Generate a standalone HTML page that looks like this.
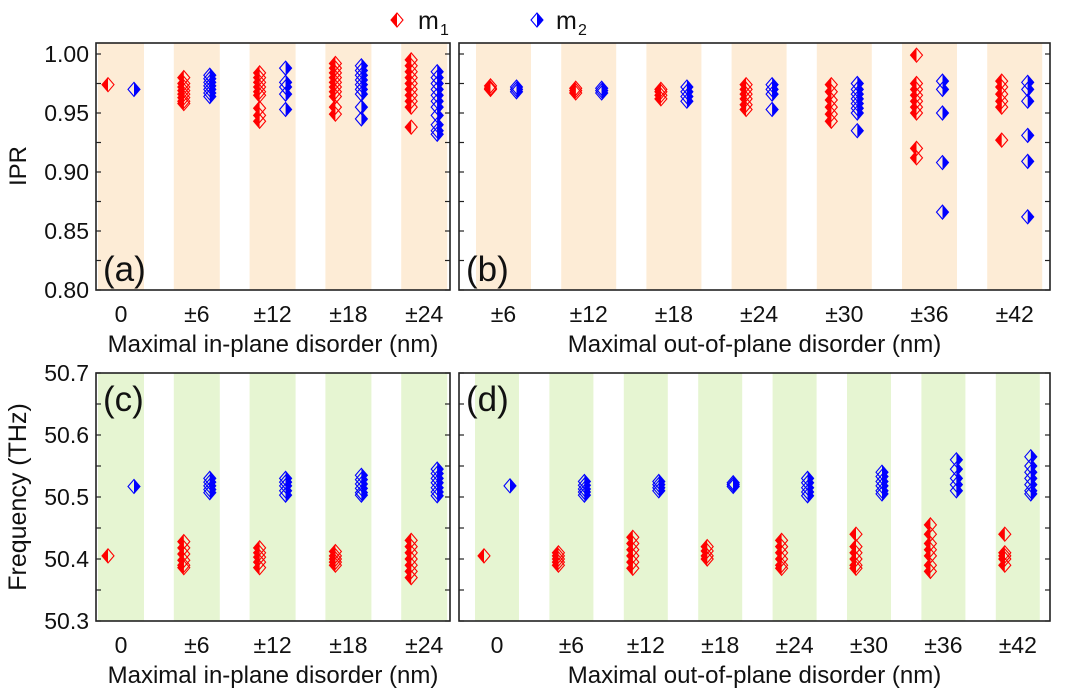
<!DOCTYPE html>
<html><head><meta charset="utf-8">
<style>
body{margin:0;background:#fff;}
svg{display:block;font-family:"Liberation Sans",Arial,sans-serif;}
</style></head>
<body>
<svg id="fig" width="1080" height="688" viewBox="0 0 1080 688" xmlns="http://www.w3.org/2000/svg"></svg>
<script>
// ---------- data ----------
const catsInPlane = ["0","±6","±12","±18","±24"];
const catsOutPlane = ["±6","±12","±18","±24","±30","±36","±42"];
const catsOutPlaneD = ["0","±6","±12","±18","±24","±30","±36","±42"];

const iprTicks = ["1.00","0.95","0.90","0.85","0.80"];
const freqTicks = ["50.7","50.6","50.5","50.4","50.3"];

const iprA_m1 = [[0.974],[0.980,0.975,0.972,0.969,0.966,0.963,0.960,0.958],[0.984,0.980,0.976,0.972,0.968,0.965,0.954,0.948,0.943],[0.992,0.988,0.984,0.980,0.976,0.972,0.968,0.964,0.955,0.949],[0.995,0.990,0.985,0.980,0.975,0.970,0.965,0.960,0.955,0.938]];
const iprA_m2 = [[0.970],[0.982,0.979,0.976,0.973,0.970,0.967,0.964],[0.988,0.976,0.972,0.966,0.953],[0.990,0.986,0.982,0.978,0.974,0.970,0.966,0.955,0.945],[0.985,0.980,0.975,0.970,0.965,0.960,0.955,0.948,0.940,0.935,0.932]];
const iprB_m1 = [[0.973,0.971,0.970],[0.971,0.969,0.967],[0.970,0.968,0.965,0.962],[0.974,0.970,0.966,0.962,0.957,0.953],[0.974,0.968,0.961,0.955,0.949,0.943],[0.999,0.975,0.970,0.965,0.960,0.955,0.950,0.920,0.912],[0.977,0.972,0.966,0.960,0.955,0.927]];
const iprB_m2 = [[0.972,0.970,0.968],[0.971,0.969,0.967],[0.972,0.968,0.964,0.960],[0.974,0.970,0.966,0.953],[0.975,0.970,0.966,0.962,0.958,0.954,0.950,0.935],[0.977,0.970,0.950,0.908,0.866],[0.976,0.970,0.960,0.931,0.909,0.862]];
const freqC_m1 = [[50.405],[50.428,50.418,50.408,50.398,50.390,50.386],[50.418,50.410,50.403,50.395,50.386],[50.412,50.405,50.400,50.395,50.390],[50.430,50.420,50.410,50.400,50.390,50.380,50.370]];
const freqC_m2 = [[50.517],[50.530,50.524,50.518,50.512,50.507],[50.530,50.524,50.518,50.510,50.503],[50.535,50.528,50.521,50.514,50.507,50.503],[50.545,50.538,50.530,50.523,50.515,50.508,50.502]];
const freqD_m1 = [[50.405],[50.410,50.405,50.400,50.395,50.390],[50.435,50.425,50.415,50.405,50.395,50.385],[50.420,50.413,50.405,50.400],[50.430,50.420,50.410,50.400,50.390,50.385],[50.440,50.420,50.410,50.400,50.390,50.385],[50.455,50.440,50.425,50.415,50.405,50.390,50.380],[50.440,50.410,50.405,50.400,50.390]];
const freqD_m2 = [[50.518],[50.525,50.519,50.513,50.508,50.503],[50.525,50.520,50.515,50.510],[50.523,50.520,50.517],[50.530,50.523,50.515,50.508,50.502],[50.540,50.533,50.525,50.518,50.510,50.505],[50.560,50.545,50.530,50.520,50.510],[50.565,50.550,50.540,50.530,50.520,50.510,50.505]];

// ---------- helpers ----------
const NS="http://www.w3.org/2000/svg";
const svg=document.getElementById('fig');
function el(tag,attrs,parent){const e=document.createElementNS(NS,tag);for(const k in attrs)e.setAttribute(k,attrs[k]);(parent||svg).appendChild(e);return e;}
function txt(s,x,y,size,anchor,parent){const t=el('text',{x:x,y:y,'font-size':size,'text-anchor':anchor||'middle',fill:'#111'},parent);t.textContent=s;return t;}

function marker(g,x,y,color,filledLeft){
  const hw=6,hh=7;
  const half = filledLeft ? `M${x},${y-hh} L${x-hw},${y} L${x},${y+hh} Z` : `M${x},${y-hh} L${x+hw},${y} L${x},${y+hh} Z`;
  const f=el('path',{d:half,fill:color},g);
  
  
  const o=el('path',{d:`M${x},${y-hh} L${x+hw},${y} L${x},${y+hh} L${x-hw},${y} Z`,fill:'none',stroke:color,'stroke-width':1.1},g);
  
  
}

function panel(opt){
  const g=el('g',{});
  
  
  const {x0,x1,y0,y1}=opt;
  const n=opt.cats.length;
  const yScale=v=>opt.yTop+(opt.vTop-v)*opt.pxPerUnit;
  const xCenter=i=>opt.c0+i*opt.step;
  for(let i=0;i<n;i++){
    let bx=xCenter(i)-opt.bw/2, bx2=xCenter(i)+opt.bw/2;
    bx=Math.max(bx,x0); bx2=Math.min(bx2,x1);
    const r=el('rect',{x:bx,y:y0,width:bx2-bx,height:y1-y0,fill:opt.band},g);
    
    
  }
  for(let k=0;k<opt.nMinor;k++){
    const v=opt.vTop-k*opt.minorStep;
    const y=yScale(v);
    if(y<y0||y>y1)continue;
    el('line',{x1:x0,x2:x0+5,y1:y,y2:y,stroke:'#222','stroke-width':1.2},g);
    el('line',{x1:x1,x2:x1-5,y1:y,y2:y,stroke:'#222','stroke-width':1.2},g);
  }
  const fr=el('rect',{x:x0,y:y0,width:x1-x0,height:y1-y0,fill:'none',stroke:'#222','stroke-width':1.6},g);
  
  
  if(opt.yLabels){
    opt.yLabels.forEach(s=>{
      const t=txt(s,x0-7,yScale(parseFloat(s))+8,23,'end',g);
      
      
    });
  }
  opt.cats.forEach((c,i)=>{
    const t=txt(c,xCenter(i),y1+32,23,'middle',g);
    
    
  });
  opt.m1.forEach((arr,i)=>arr.forEach(v=>marker(g,xCenter(i)-13,yScale(v),'#ff0000',true)));
  opt.m2.forEach((arr,i)=>arr.forEach(v=>marker(g,xCenter(i)+13,yScale(v),'#0000ff',false)));
  const pl=txt(opt.tag,x0+7,opt.tagY,35,'start',g);
  
  
  const xt=txt(opt.xTitle,(x0+x1)/2,y1+62,24,'middle',g);
  
  
}

const ORANGE='#fdecd6', GREEN='#e6f5d2';
panel({name:'panel-a',x0:96,x1:450,y0:43,y1:290,cats:catsInPlane,c0:121,step:75.8,bw:46,band:ORANGE,
  yTop:54,vTop:1.0,pxPerUnit:1180,nMinor:9,minorStep:0.025,yLabels:iprTicks,m1:iprA_m1,m2:iprA_m2,tag:'(a)',tagY:281,xTitle:'Maximal in-plane disorder (nm)'});
panel({name:'panel-b',x0:459,x1:1050,y0:43,y1:290,cats:catsOutPlane,c0:503.5,step:85.2,bw:55,band:ORANGE,
  yTop:54,vTop:1.0,pxPerUnit:1180,nMinor:9,minorStep:0.025,yLabels:null,m1:iprB_m1,m2:iprB_m2,tag:'(b)',tagY:281,xTitle:'Maximal out-of-plane disorder (nm)'});
panel({name:'panel-c',x0:96,x1:450,y0:373,y1:621,cats:catsInPlane,c0:121,step:75.8,bw:46,band:GREEN,
  yTop:373,vTop:50.7,pxPerUnit:620,nMinor:9,minorStep:0.05,yLabels:freqTicks,m1:freqC_m1,m2:freqC_m2,tag:'(c)',tagY:411,xTitle:'Maximal in-plane disorder (nm)'});
panel({name:'panel-d',x0:459,x1:1050,y0:373,y1:621,cats:catsOutPlaneD,c0:497,step:74.4,bw:44,band:GREEN,
  yTop:373,vTop:50.7,pxPerUnit:620,nMinor:9,minorStep:0.05,yLabels:null,m1:freqD_m1,m2:freqD_m2,tag:'(d)',tagY:411,xTitle:'Maximal out-of-plane disorder (nm)'});

const yt1=txt('IPR',0,0,24,'middle');
yt1.setAttribute('transform','translate(26,166) rotate(-90)');


const yt2=txt('Frequency (THz)',0,0,25,'middle');
yt2.setAttribute('transform','translate(26,497) rotate(-90)');



const lg=el('g',{});


marker(lg,397,20,'#ff0000',true);
const l1=txt('m',418,29,25,'start',lg);


const s1=txt('1',440,35,16,'start',lg);


marker(lg,537,20,'#0000ff',false);
const l2=txt('m',556,29,25,'start',lg);


const s2=txt('2',578,35,16,'start',lg);


</script>
</body></html>
